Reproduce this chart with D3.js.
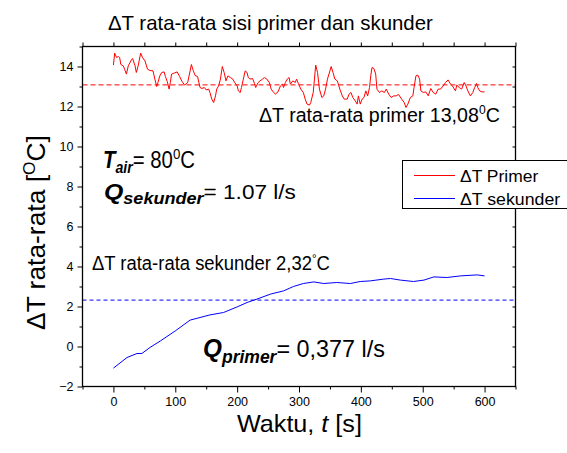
<!DOCTYPE html>
<html lang="en">
<head>
<meta charset="UTF-8">
<title>ΔT rata-rata sisi primer dan skunder</title>
<script src="https://d3js.org/d3.v7.min.js"></script>
<style>
  body { margin: 0; background: #fff; }
  svg { display: block; font-family: "Liberation Sans", Arial, sans-serif; }
  .axis path { display: none; }
  .axis line { stroke: #000; stroke-width: 1; }
  .axis text { font-size: 12.5px; fill: #000; font-family: "Liberation Sans", Arial, sans-serif; }
</style>
</head>
<body>
<svg id="chart" width="567" height="453"></svg>
<script>
// data
const primerT = [0,2,5,8,10,12,16,18,21,24,29,31,35,37,40,44,47,51,55,59,64,67,70,72,75,78,82,84,87,90,92,94,99,103,107,111,115,120,124,126,129,132,136,140,143,147,150,154,156,159,162,165,167,170,173,176,179,182,185,189,193,196,200,202,205,207,210,213,216,218,221,225,228,230,234,237,241,244,248,252,255,259,262,266,270,273,275,278,281,284,286,290,294,296,299,303,307,310,313,317,319,323,325,327,330,333,337,340,343,346,350,352,355,358,362,366,370,373,378,381,384,387,391,394,396,399,402,405,408,411,414,416,418,421,424,426,430,434,438,441,445,449,453,457,461,466,470,473,476,480,484,486,489,492,495,497,501,505,509,513,517,521,525,529,533,537,541,545,548,553,555,559,563,567,570,573,577,581,584,587,589,592,596,600];
const primerV = [14.07,14.67,14.45,14.5,14.45,14.1,14.03,13.87,13.62,14.03,14.33,14.4,14.03,13.7,14.03,14.67,14.45,14.28,13.87,13.8,13.78,13.37,13.0,13.2,13.53,13.7,13.73,13.5,13.25,12.87,13.2,13.62,13.68,13.73,13.5,13.25,13.07,13.2,13.78,14.1,13.8,13.55,13.5,12.95,12.9,12.95,12.83,12.87,12.7,12.37,12.2,12.53,12.87,13.03,13.37,14.0,13.7,13.28,13.53,13.45,13.37,13.2,13.03,12.78,12.7,12.95,13.37,13.78,13.7,13.45,13.37,13.4,13.15,12.95,13.2,13.28,13.37,13.45,13.37,13.2,12.87,12.7,12.62,12.73,13.03,13.12,12.95,13.2,13.37,13.45,13.12,13.28,13.2,13.37,13.15,12.87,12.7,12.37,12.12,12.07,12.2,12.7,13.37,14.07,13.7,12.87,12.45,12.53,12.87,13.37,13.78,14.0,13.7,13.37,13.28,12.87,12.53,12.37,12.37,12.62,12.7,12.45,12.28,12.12,12.53,12.12,12.37,12.45,12.78,12.53,12.95,13.53,13.95,13.9,13.62,12.87,12.7,12.78,12.7,12.87,12.62,12.45,12.53,12.53,12.6,12.37,12.2,11.95,12.12,12.45,12.53,12.95,13.53,13.57,13.37,12.78,12.7,12.73,12.53,12.9,12.7,12.62,12.87,12.87,13.03,13.2,13.33,13.12,13.03,12.78,13.07,12.95,12.87,13.2,13.03,12.78,12.53,12.7,12.95,13.15,12.95,12.78,12.73,12.73];
const sekunderT = [0,22,38,46,59,76,100,124,140,156,178,200,216,232,254,275,291,307,324,340,361,383,399,415,437,448,464,485,502,518,539,561,588,600];
const sekunderV = [-1.08,-0.55,-0.35,-0.35,-0.05,0.28,0.78,1.32,1.45,1.58,1.7,1.98,2.2,2.37,2.62,2.78,3.0,3.15,3.23,3.15,3.2,3.15,3.25,3.28,3.37,3.4,3.32,3.25,3.32,3.48,3.45,3.53,3.58,3.53];
const primerMean = 13.08;
const sekunderMean = 2.32;
const xTicks = [0,100,200,300,400,500,600];
const xMinor = [-50,50,150,250,350,450,550,650];
const yTicks = [-2,0,2,4,6,8,10,12,14];
const yMinor = [-1,1,3,5,7,9,11,13,15];
const yRight = [-1,0,1,2,3,4,5,6,7,8,9,10,11,12,13,14];

const svg = d3.select('#chart');
const x = d3.scaleLinear().domain([-50, 650]).range([82.5, 515.5]);
const y = d3.scaleLinear().domain([-2, 15]).range([386.5, 46.5]);

// axes
const H = 386.5, L = 82.5, R = 515.5, T = 46.5;
svg.append('g').attr('class', 'axis').attr('transform', `translate(0,${H})`)
  .call(d3.axisBottom(x).tickValues(xTicks).tickSize(6).tickPadding(5).tickSizeOuter(0));
svg.append('g').attr('class', 'axis').attr('transform', `translate(0,${H})`)
  .call(d3.axisBottom(x).tickValues(xMinor).tickSize(3).tickFormat('').tickSizeOuter(0));
svg.append('g').attr('class', 'axis').attr('transform', `translate(0,${T})`)
  .call(d3.axisTop(x).tickValues(xTicks.concat(xMinor)).tickSize(4).tickFormat('').tickSizeOuter(0));
svg.append('g').attr('class', 'axis').attr('transform', `translate(${L},0)`)
  .call(d3.axisLeft(y).tickValues(yTicks).tickSize(5).tickPadding(4).tickSizeOuter(0));
svg.append('g').attr('class', 'axis').attr('transform', `translate(${L},0)`)
  .call(d3.axisLeft(y).tickValues(yMinor).tickSize(3).tickFormat('').tickSizeOuter(0));
svg.append('g').attr('class', 'axis').attr('transform', `translate(${R},0)`)
  .call(d3.axisLeft(y).tickValues(yRight).tickSize(-3).tickFormat('').tickSizeOuter(0))
  .selectAll('line').attr('x2', -3);

// mean lines
svg.append('line').attr('x1', L).attr('x2', R).attr('y1', y(primerMean)).attr('y2', y(primerMean))
  .attr('stroke', '#ff0000').attr('stroke-dasharray', '5,3');
svg.append('line').attr('x1', L).attr('x2', R).attr('y1', y(sekunderMean)).attr('y2', y(sekunderMean))
  .attr('stroke', '#0000ff').attr('stroke-dasharray', '4,3');

// series
const line = d3.line().x(d => x(d[0])).y(d => y(d[1]));
svg.append('path').datum(primerT.map((t, i) => [t, primerV[i]]))
  .attr('d', line).attr('fill', 'none').attr('stroke', '#ff0000').attr('stroke-width', 1);
svg.append('path').datum(sekunderT.map((t, i) => [t, sekunderV[i]]))
  .attr('d', line).attr('fill', 'none').attr('stroke', '#0000ff').attr('stroke-width', 1);

// frame
svg.append('rect').attr('x', L).attr('y', T).attr('width', R - L).attr('height', H - T)
  .attr('fill', 'none').attr('stroke', '#000').attr('stroke-width', 1.3);

// text helper: parts are [string, size, style, dy]; squeezed to a target width
function rich(parts, x0, y0, width, rot) {
  const g = svg.append('g');
  const t = g.append('text').attr('fill', '#000');
  parts.forEach(p => {
    const s = t.append('tspan').attr('font-size', p[1]).text(p[0]);
    if (p[2] && p[2].includes('b')) s.attr('font-weight', 'bold');
    if (p[2] && p[2].includes('i')) s.attr('font-style', 'italic');
    if (p[3]) s.attr('dy', p[3]);
  });
  const w = t.node().getBBox().width;
  g.attr('transform', `translate(${x0},${y0})${rot ? ' rotate(-90)' : ''} scale(${width / w},1)`);
}

rich([['ΔT rata-rata sisi primer dan skunder', 21]], 108, 30, 325);
rich([['ΔT rata-rata primer 13,08', 21], ['0', 13, '', -8], ['C', 21, '', 8]], 259, 122, 241);
rich([['ΔT rata-rata sekunder 2,32', 21], ['°', 13, '', -7], ['C', 21, '', 7]], 92, 270, 238);
rich([['T', 23, 'bi'], ['air', 16, 'bi', 5], ['= 80', 23, '', -5], ['0', 15, '', -9], ['C', 23, '', 9]], 103, 168, 92);
rich([['Q', 22, 'bi'], ['sekunder', 16, 'bi', 5], ['= 1.07 l/s', 20, '', -5]], 104, 199, 192);
rich([['Q', 25, 'bi'], ['primer', 18, 'bi', 6], ['= 0,377 l/s', 24, '', -6]], 203, 357, 182);
rich([['Waktu, ', 24], ['t', 24, 'i'], [' [s]', 24]], 237, 432, 125);
rich([['ΔT rata-rata [', 26], ['O', 17, '', -10], ['C]', 26, '', 10]], 45, 330, 195, true);

// legend
svg.append('rect').attr('x', 402.5).attr('y', 160.5).attr('width', 200).attr('height', 48)
  .attr('fill', '#fff').attr('stroke', '#000').attr('stroke-width', 1);
svg.append('line').attr('x1', 414).attr('x2', 455).attr('y1', 175.5).attr('y2', 175.5).attr('stroke', '#ff0000');
svg.append('line').attr('x1', 414).attr('x2', 455).attr('y1', 198.5).attr('y2', 198.5).attr('stroke', '#0000ff');
rich([['ΔT Primer', 16]], 460, 181.5, 79);
rich([['ΔT sekunder', 16]], 460, 205, 101);
</script>
</body>
</html>
